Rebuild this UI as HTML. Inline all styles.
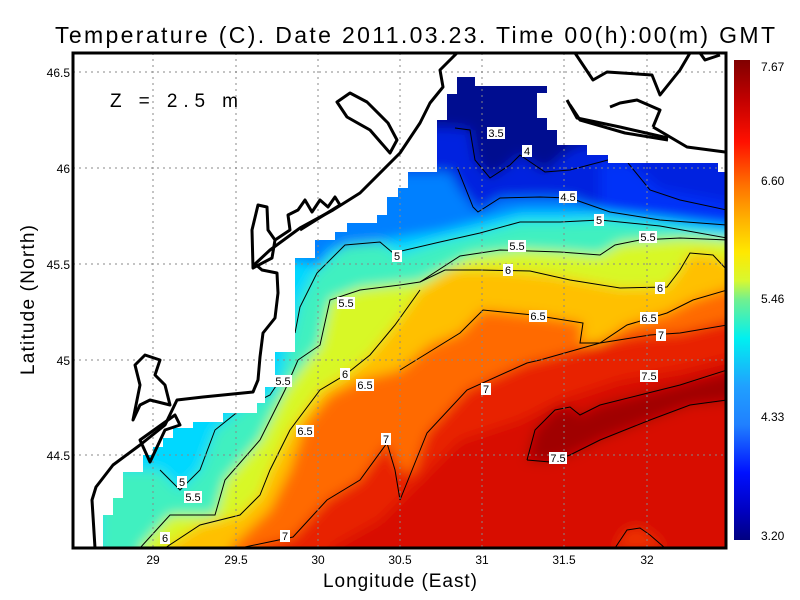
<!DOCTYPE html>
<html><head><meta charset="utf-8"><style>
body{margin:0;background:#fff;}
svg{display:block;font-family:"Liberation Sans",sans-serif;}
</style></head><body>
<svg width="800" height="600" viewBox="0 0 800 600" xmlns="http://www.w3.org/2000/svg">
<defs>
<clipPath id="data"><polygon points="103,548 103,515 113,515 113,498 123,498 123,472 143,472 143,455 153,455 153,447 163,447 163,438 173,438 173,428 193,428 193,422 223,422 223,413 257,413 257,403 265,403 265,387 275,387 275,352 295,352 295,258 315,258 315,240 335,240 335,232 347,232 347,223 377,223 377,215 387,215 387,197 398,197 398,188 408,188 408,172 437,172 437,120 447,120 447,94 457,94 457,77 475,77 475,86 547,86 547,93 537,93 537,118 547,118 547,130 557,130 557,145 587,145 587,155 608,155 608,163 718,163 718,172 725,172 725,548"/></clipPath>
<clipPath id="plot"><rect x="73" y="53" width="653" height="495"/></clipPath>
<filter id="bl" x="-5%" y="-5%" width="110%" height="110%"><feGaussianBlur stdDeviation="6"/></filter>
<linearGradient id="cb" x1="0" y1="0" x2="0" y2="1">
<stop offset="0" stop-color="#800000"/><stop offset="0.08" stop-color="#c00000"/><stop offset="0.17" stop-color="#ff1000"/><stop offset="0.26" stop-color="#ff7000"/><stop offset="0.33" stop-color="#ffb000"/><stop offset="0.4" stop-color="#ffe800"/><stop offset="0.46" stop-color="#d8f830"/><stop offset="0.5" stop-color="#70f090"/><stop offset="0.58" stop-color="#00f0f0"/><stop offset="0.68" stop-color="#20a0ff"/><stop offset="0.76" stop-color="#2080ff"/><stop offset="0.86" stop-color="#0010ff"/><stop offset="0.94" stop-color="#0000c0"/><stop offset="1" stop-color="#000080"/>
</linearGradient>
</defs>

<g clip-path="url(#data)">
<g filter="url(#bl)">
<rect x="60" y="40" width="680" height="520" fill="#000a90"/>
<polygon fill="#0020e0" points="60,120 455,128 470,130 475,160 490,178 510,165 520,155 545,172 570,150 600,140 740,140 740,560 60,560"/>
<polygon fill="#0030f8" points="600,163 630,163 660,190 740,205 740,560 600,560"/>
<polygon fill="#0080ff" points="60,172 450,172 460,190 478,212 500,198 540,197 570,198 610,212 660,220 727,225 740,560 60,560"/>
<polygon fill="#00d8ff" points="60,300 290,260 320,265 330,250 440,232 480,222 520,212 560,212 600,212 660,218 740,228 740,560 60,560"/>
<polygon fill="#40f0c0" points="100,470 160,470 180,490 200,470 215,430 240,410 270,395 280,380 290,340 300,300 315,272 345,245 380,242 400,255 440,242 480,233 520,222 560,222 600,220 660,226 740,238 740,560 100,560"/>
<polygon fill="#d8f828" points="140,548 170,515 215,515 225,480 260,440 285,390 300,370 320,345 330,300 360,288 420,282 470,256 520,250 560,252 600,255 620,243 680,238 740,240 740,560 140,560"/>
<polygon fill="#ffc000" points="165,548 200,525 240,515 260,495 270,470 290,430 320,390 345,375 370,355 395,325 420,290 450,270 500,270 550,275 620,288 667,287 680,270 690,253 713,255 740,270 740,560 165,560"/>
<polygon fill="#ff6a00" points="230,548 270,510 290,470 305,425 330,395 360,380 400,370 430,345 460,333 483,310 533,315 583,323 580,343 600,343 627,325 667,313 693,300 740,285 740,560 230,560"/>
<polygon fill="#e82000" points="255,548 293,537 327,500 360,480 387,443 400,470 413,473 427,433 467,390 527,363 540,360 580,350 600,343 640,335 680,333 740,318 740,560 255,560"/>
<polygon fill="#d81000" points="330,548 380,520 420,480 460,440 520,420 560,400 620,380 680,370 740,355 740,560 330,560"/>
<polygon fill="#a00000" points="527,460 535,430 555,410 570,407 580,415 600,405 640,395 680,385 720,375 740,368 740,400 690,405 650,420 600,440 570,455 550,462"/>
<polygon fill="#ee3000" points="615,548 627,530 640,528 650,535 665,548"/>
</g>
<g fill="none" stroke="#000" stroke-width="1">
<polyline points="455,128 470,130 475,160 490,178 510,165 520,155 545,172 570,170 608,160"/>
<polyline points="628,163 650,190 680,200 727,210"/>
<polyline points="457,167 473,207 478,212 500,198 540,197 570,198 610,212 660,220 727,225"/>
<polyline points="295,333 300,307 317,273 345,245 380,242 393,253 440,242 480,233 520,222 560,222 600,220 660,226 727,238"/>
<polyline points="420,282 460,256 500,250 560,252 600,255 615,245 640,240 680,238 727,240"/>
<polyline points="298,360 320,345 330,300 360,290 400,285 420,282"/>
<polyline points="420,282 445,270 480,270 530,271 570,280 620,288 667,287 680,270 690,253 713,255 727,270"/>
<polyline points="400,370 460,333 483,310 533,315 583,323 580,343 600,343 627,325 667,313 693,300 727,290"/>
<polyline points="400,500 427,433 467,390 527,363 540,360 600,343 650,335 680,333 727,325"/>
<polyline points="240,548 293,537 327,500 360,480 387,443 395,470 400,500"/>
<polyline points="527,460 535,430 555,410 570,407 580,415 600,405 640,395 680,385 727,370"/>
<polyline points="727,400 690,405 650,420 600,440 570,455 550,462 527,460"/>
<polyline points="615,548 627,530 640,528 650,535 665,548"/>
<polyline points="140,548 170,515 215,515 225,480 260,440 285,390 298,360"/>
<polyline points="165,548 200,525 240,515 260,495 270,470 290,430 320,390 345,375 370,355 395,325 420,290"/>
<polyline points="160,470 180,490 200,470 215,430 240,410 270,395 280,380"/>
</g>
</g>

<g stroke="#888" stroke-width="1" stroke-dasharray="2,4" clip-path="url(#plot)">
<line x1="153" y1="53" x2="153" y2="548"/><line x1="236" y1="53" x2="236" y2="548"/><line x1="318" y1="53" x2="318" y2="548"/><line x1="400" y1="53" x2="400" y2="548"/><line x1="482" y1="53" x2="482" y2="548"/><line x1="564" y1="53" x2="564" y2="548"/><line x1="647" y1="53" x2="647" y2="548"/>
<line x1="73" y1="72" x2="726" y2="72"/><line x1="73" y1="168" x2="726" y2="168"/><line x1="73" y1="264" x2="726" y2="264"/><line x1="73" y1="360" x2="726" y2="360"/><line x1="73" y1="455" x2="726" y2="455"/>
</g>

<g fill="none" stroke="#000" stroke-width="3" stroke-linejoin="round" clip-path="url(#plot)">
<path d="M95,548 L92,500 L96,487 L113,465 L140,445 L165,425 L177,400 L203,397 L233,394 L253,392 L258,380 L260,357 L263,333 L275,318 L278,293 L277,273 L262,270 L255,264 L270,250 L300,228 L333,210 L360,193 L400,153 L420,123 L430,103 L443,87 L440,70 L457,53"/>
<path d="M150,462 L165,430 L180,425 L175,415 L140,440 Z"/>
<path d="M133,420 L140,405 L150,400 L170,405 L165,385 L155,375 L160,360 L145,355 L135,365 L140,385 Z"/>
<path d="M253,268 L252,230 L258,205 L267,207 L268,230 L275,240 L272,258 Z"/>
<path d="M275,240 L290,230 L288,215 L298,210 L305,200 L312,212 L320,200 L328,207 L335,197 L340,205 L300,230"/>
<path d="M337,102 L350,93 L367,102 L388,123 L397,140 L390,153 L370,130 L347,117 Z"/>
<path d="M575,53 L593,80 L607,72 L652,75 L660,95 L680,70 L690,53"/>
<path d="M567,100 L577,118 L620,127 L668,138"/>
<path d="M570,105 L580,120 L625,133 L668,140"/>
<path d="M610,107 L620,103 L637,100 L660,110 L653,127"/>
<path d="M653,127 L687,147 L725,152"/>
<path d="M700,53 L705,60 L720,55"/>
</g>

<g font-size="11" text-anchor="middle">
<g fill="#fff"><rect x="487" y="127" width="18" height="12"/><rect x="522" y="145" width="10" height="12"/><rect x="559" y="191" width="18" height="12"/><rect x="594" y="214" width="10" height="12"/><rect x="639" y="231" width="18" height="12"/><rect x="508" y="240" width="18" height="12"/><rect x="392" y="250" width="10" height="12"/><rect x="503" y="264" width="10" height="12"/><rect x="655" y="282" width="10" height="12"/><rect x="337" y="297" width="18" height="12"/><rect x="529" y="310" width="18" height="12"/><rect x="640" y="312" width="18" height="12"/><rect x="656" y="329" width="10" height="12"/><rect x="340" y="368" width="10" height="12"/><rect x="356" y="379" width="18" height="12"/><rect x="274" y="375" width="18" height="12"/><rect x="640" y="370" width="18" height="12"/><rect x="481" y="383" width="10" height="12"/><rect x="296" y="425" width="18" height="12"/><rect x="381" y="433" width="10" height="12"/><rect x="549" y="452" width="18" height="12"/><rect x="177" y="476" width="10" height="12"/><rect x="184" y="491" width="18" height="12"/><rect x="160" y="532" width="10" height="12"/><rect x="280" y="530" width="10" height="12"/></g>
<text x="496" y="137">3.5</text><text x="527" y="155">4</text><text x="568" y="201">4.5</text><text x="599" y="224">5</text><text x="648" y="241">5.5</text><text x="517" y="250">5.5</text><text x="397" y="260">5</text><text x="508" y="274">6</text><text x="660" y="292">6</text><text x="346" y="307">5.5</text><text x="538" y="320">6.5</text><text x="649" y="322">6.5</text><text x="661" y="339">7</text><text x="345" y="378">6</text><text x="365" y="389">6.5</text><text x="283" y="385">5.5</text><text x="649" y="380">7.5</text><text x="486" y="393">7</text><text x="305" y="435">6.5</text><text x="386" y="443">7</text><text x="558" y="462">7.5</text><text x="182" y="486">5</text><text x="193" y="501">5.5</text><text x="165" y="542">6</text><text x="285" y="540">7</text>
</g>

<rect x="73" y="53" width="653" height="495" fill="none" stroke="#000" stroke-width="3"/>
<rect x="734" y="60" width="16" height="480" fill="url(#cb)"/>

<g font-size="12" fill="#000">
<text x="761" y="71">7.67</text><text x="761" y="185">6.60</text><text x="761" y="303">5.46</text><text x="761" y="421">4.33</text><text x="761" y="540">3.20</text>
</g>
<g font-size="12" text-anchor="end">
<text x="70" y="77">46.5</text><text x="70" y="173">46</text><text x="70" y="269">45.5</text><text x="70" y="365">45</text><text x="70" y="460">44.5</text>
</g>
<g font-size="12" text-anchor="middle">
<text x="153" y="564">29</text><text x="236" y="564">29.5</text><text x="318" y="564">30</text><text x="400" y="564">30.5</text><text x="482" y="564">31</text><text x="564" y="564">31.5</text><text x="647" y="564">32</text>
</g>
<text x="110" y="107" font-size="19" textLength="128" lengthAdjust="spacing">Z = 2.5 m</text>
<text x="55" y="43" font-size="23" textLength="720" lengthAdjust="spacing">Temperature (C). Date 2011.03.23. Time 00(h):00(m) GMT</text>
<text x="400" y="587" font-size="19" text-anchor="middle" textLength="154" lengthAdjust="spacing">Longitude (East)</text>
<text transform="translate(34,300) rotate(-90)" font-size="19" text-anchor="middle" textLength="150" lengthAdjust="spacing">Latitude (North)</text>
</svg>
</body></html>
